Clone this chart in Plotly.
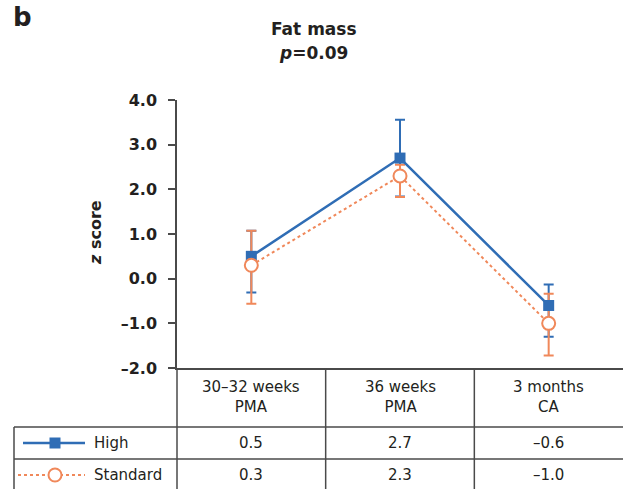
import plotly.graph_objects as go

# ---- data ----
timepoints = ["30\u201332 weeks<br>PMA", "36 weeks<br>PMA", "3 months<br>CA"]
groups = ["High", "Standard"]

high_mean = [0.5, 2.7, -0.6]
high_err_plus = [0.57, 0.86, 0.47]
high_err_minus = [0.81, 0.86, 0.70]

std_mean = [0.3, 2.3, -1.0]
std_err_plus = [0.77, 0.25, 0.66]
std_err_minus = [0.86, 0.47, 0.72]

y_ticks = [-2.0, -1.0, 0.0, 1.0, 2.0, 3.0, 4.0]

# ---- styling ----
BLUE = "#2f6db5"
ORANGE = "#f0885a"
INK = "#231f20"
GRID = "#4a4a4a"
FONT = "DejaVu Sans"

W, H = 623, 489
ML, MR, MT, MB = 177, 0, 100, 121
PW, PH = W - ML - MR, H - MT - MB
x_idx = list(range(len(timepoints)))
x_range = [-0.5, len(timepoints) - 0.5]


def fmt(v):
    s = f"{v:.1f}"
    return s.replace("-", "\u2013")


def px_x(px):
    """Horizontal pixel position -> paper fraction."""
    return (px - ML) / PW


def px_y(py):
    """Vertical pixel position -> paper fraction."""
    return (H - MB - py) / PH


def cat_to_paper(c):
    return (c - x_range[0]) / (x_range[1] - x_range[0])


fig = go.Figure()

# error bars first so both series' markers sit on top of them
for mean, ep, em, col in ((high_mean, high_err_plus, high_err_minus, BLUE),
                          (std_mean, std_err_plus, std_err_minus, ORANGE)):
    fig.add_trace(go.Scatter(
        x=x_idx, y=mean, mode="markers",
        marker=dict(size=1, color="rgba(0,0,0,0)"),
        error_y=dict(type="data", symmetric=False, array=ep, arrayminus=em,
                     color=col, thickness=2, width=5),
        showlegend=False, hoverinfo="skip",
    ))

fig.add_trace(go.Scatter(
    x=x_idx, y=high_mean, mode="lines+markers", name=groups[0],
    line=dict(color=BLUE, width=2.5),
    marker=dict(symbol="square", size=11, color=BLUE),
    showlegend=False,
))
fig.add_trace(go.Scatter(
    x=x_idx, y=std_mean, mode="lines+markers", name=groups[1],
    line=dict(color=ORANGE, width=2, dash="dot"),
    marker=dict(symbol="circle", size=13, color="white",
                line=dict(color=ORANGE, width=2)),
    showlegend=False,
))

# ---- table beneath the axis ----
shapes = []
row_top = px_y(427)
row_mid = px_y(459)
bottom = px_y(H + 2)
left = px_x(14)
line_style = dict(color=GRID, width=1.5)

# horizontal rules
for yy in (row_top, row_mid):
    shapes.append(dict(type="line", xref="paper", yref="paper",
                       x0=left, x1=1.0, y0=yy, y1=yy, line=line_style))
# vertical rules: axis continuation and column separators
shapes.append(dict(type="line", xref="paper", yref="paper",
                   x0=0, x1=0, y0=0, y1=bottom, line=line_style))
for b in [i + 0.5 for i in x_idx[:-1]]:
    xp = cat_to_paper(b)
    shapes.append(dict(type="line", xref="paper", yref="paper",
                       x0=xp, x1=xp, y0=0, y1=bottom, line=line_style))
shapes.append(dict(type="line", xref="paper", yref="paper",
                   x0=left, x1=left, y0=row_top, y1=bottom, line=line_style))

# legend samples inside the table
y_high, y_std = 443, 475
shapes.append(dict(type="line", xref="paper", yref="paper",
                   x0=px_x(23), x1=px_x(85), y0=px_y(y_high), y1=px_y(y_high),
                   line=dict(color=BLUE, width=2.5)))
shapes.append(dict(type="rect", xref="paper", yref="paper",
                   x0=px_x(55 - 5.5), x1=px_x(55 + 5.5),
                   y0=px_y(y_high + 5.5), y1=px_y(y_high - 5.5),
                   fillcolor=BLUE, line=dict(width=0)))
shapes.append(dict(type="line", xref="paper", yref="paper",
                   x0=px_x(18), x1=px_x(85), y0=px_y(y_std), y1=px_y(y_std),
                   line=dict(color=ORANGE, width=2, dash="dot")))
shapes.append(dict(type="circle", xref="paper", yref="paper",
                   x0=px_x(55 - 6.5), x1=px_x(55 + 6.5),
                   y0=px_y(y_std + 6.5), y1=px_y(y_std - 6.5),
                   fillcolor="white", line=dict(color=ORANGE, width=2)))

annotations = []
tfont = dict(family=FONT, size=15, color=INK)
for i, lab in enumerate(timepoints):
    annotations.append(dict(x=i, xref="x", y=px_y(397), yref="paper",
                            text=lab, showarrow=False, font=tfont,
                            xanchor="center", yanchor="middle"))
    annotations.append(dict(x=i, xref="x", y=px_y(y_high), yref="paper",
                            text=fmt(high_mean[i]), showarrow=False, font=tfont,
                            xanchor="center", yanchor="middle"))
    annotations.append(dict(x=i, xref="x", y=px_y(y_std), yref="paper",
                            text=fmt(std_mean[i]), showarrow=False, font=tfont,
                            xanchor="center", yanchor="middle"))
for name, yy in zip(groups, (y_high, y_std)):
    annotations.append(dict(x=px_x(92), xref="paper", y=px_y(yy), yref="paper",
                            text=name, showarrow=False, font=tfont,
                            xanchor="left", yanchor="middle"))

# titles and panel letter
annotations.append(dict(x=px_x(314), xref="paper", y=px_y(29), yref="paper",
                        text="<b>Fat mass</b>", showarrow=False,
                        font=dict(family=FONT, size=17, color=INK),
                        xanchor="center", yanchor="middle"))
annotations.append(dict(x=px_x(313), xref="paper", y=px_y(53), yref="paper",
                        text="<b><i>p</i>=0.09</b>", showarrow=False,
                        font=dict(family=FONT, size=17, color=INK),
                        xanchor="center", yanchor="middle"))
annotations.append(dict(x=px_x(22), xref="paper", y=px_y(17), yref="paper",
                        text="<b>b</b>", showarrow=False,
                        font=dict(family=FONT, size=26, color=INK),
                        xanchor="center", yanchor="middle"))
annotations.append(dict(x=px_x(95), xref="paper", y=px_y(233), yref="paper",
                        text="<b><i>z</i> score</b>", showarrow=False,
                        textangle=-90,
                        font=dict(family=FONT, size=16, color=INK),
                        xanchor="center", yanchor="middle"))

fig.update_layout(
    width=W, height=H,
    margin=dict(l=ML, r=MR, t=MT, b=MB, pad=0),
    paper_bgcolor="white", plot_bgcolor="white",
    shapes=shapes, annotations=annotations,
    xaxis=dict(range=x_range, showgrid=False, zeroline=False,
               showline=True, linecolor=GRID, linewidth=1.5,
               showticklabels=False, ticks=""),
    yaxis=dict(range=[y_ticks[0], y_ticks[-1]], showgrid=False, zeroline=False,
               showline=True, linecolor=GRID, linewidth=1.5,
               ticks="outside", ticklen=7, tickwidth=1.5, tickcolor=GRID,
               tickvals=y_ticks, ticktext=[fmt(v) for v in y_ticks],
               ticklabelstandoff=8,
               tickfont=dict(family=FONT, size=16, color=INK, weight="bold")),
)

fig.write_html("out.html")
